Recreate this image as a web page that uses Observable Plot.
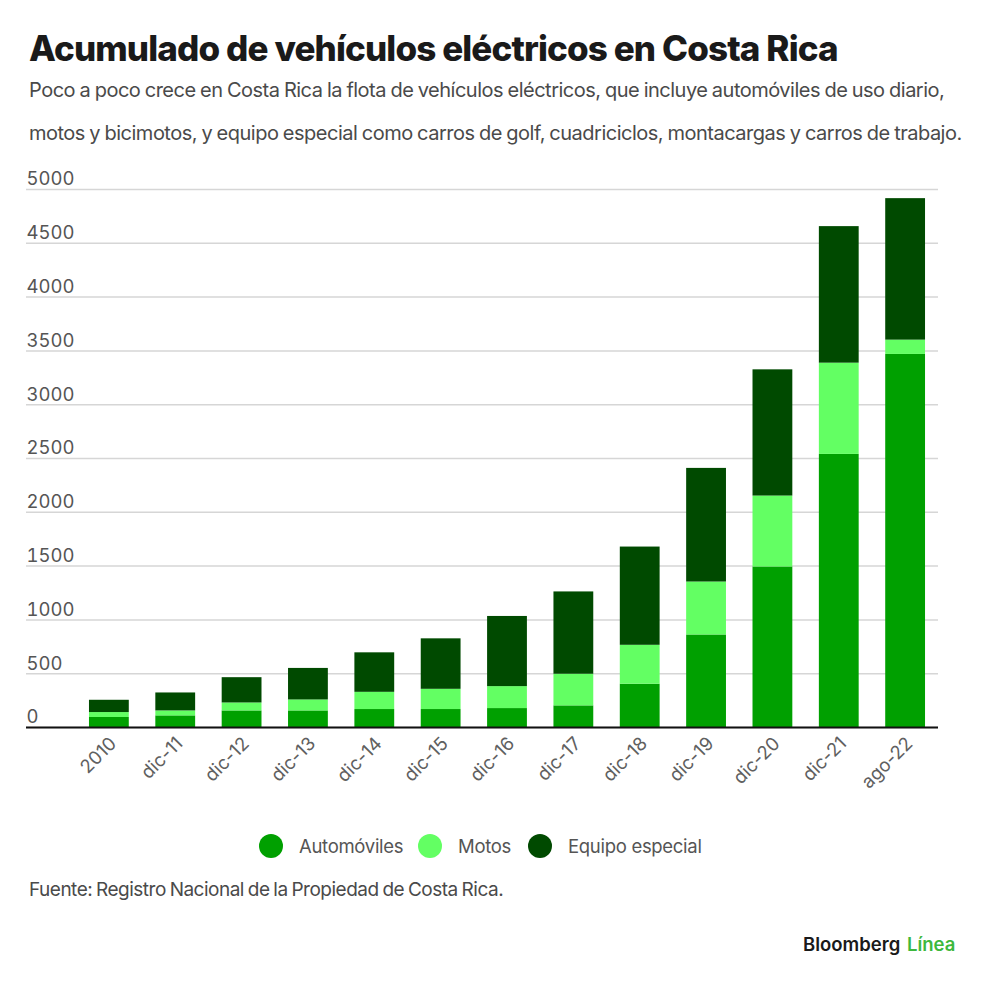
<!DOCTYPE html>
<html><head><meta charset="utf-8">
<script src="https://cdn.jsdelivr.net/npm/d3@7"></script>
<script src="https://cdn.jsdelivr.net/npm/@observablehq/plot@0.6"></script>
<style>
html,body{margin:0;padding:0;background:#fff;}
body{width:1000px;height:990px;position:relative;overflow:hidden;font-family:"Inter","Liberation Sans",sans-serif;color:#2a2a2a;}
#t{position:absolute;left:29px;top:27px;font-size:35px;font-weight:800;color:#1a1a1a;letter-spacing:-0.87px;white-space:nowrap;}
.s{position:absolute;left:29px;font-size:20px;color:#4a4a4a;letter-spacing:-0.5px;word-spacing:-0.7px;white-space:nowrap;}
#c{position:absolute;left:0;top:160px;}
#l{position:absolute;left:0;top:830px;width:1000px;height:30px;font-size:18.5px;color:#555;letter-spacing:-0.3px;}
#l span{position:absolute;top:5px;white-space:nowrap;}
#l i{position:absolute;top:4px;width:24px;height:24px;border-radius:50%;}
#f{position:absolute;left:29px;top:878px;font-size:19px;color:#4a4a4a;letter-spacing:-0.5px;word-spacing:-1px;white-space:nowrap;}
#b{position:absolute;left:803px;top:933px;font-size:18.5px;font-weight:600;color:#1a1a1a;white-space:nowrap;}
#b em{position:absolute;left:104px;font-style:normal;color:#3db83d;}
</style></head><body>
<div id="t">Acumulado de vehículos eléctricos en Costa Rica</div>
<div class="s" style="top:78px">Poco a poco crece en Costa Rica la flota de vehículos eléctricos, que incluye automóviles de uso diario,</div>
<div class="s" style="top:121px">motos y bicimotos, y equipo especial como carros de golf, cuadriciclos, montacargas y carros de trabajo.</div>
<div id="c"></div>
<div id="l"></div>
<div id="f">Fuente: Registro Nacional de la Propiedad de Costa Rica.</div>
<div id="b">Bloomberg <em>Línea</em></div>
<script>
const periods = ["2010","dic-11","dic-12","dic-13","dic-14","dic-15","dic-16","dic-17","dic-18","dic-19","dic-20","dic-21","ago-22"];
const autos  = [93,108,154,154,167,167,176,201,402,860,1492,2538,3467];
const motos  = [46,46,74,102,160,188,204,294,362,492,659,848,133];
const equipo = [114,167,235,293,367,469,652,765,913,1056,1173,1269,1315];
const seriesNames = ["Automóviles","Motos","Equipo especial"];
const seriesColors = ["#00a000","#63ff63","#004a00"];
const yTicks = [0,500,1000,1500,2000,2500,3000,3500,4000,4500,5000];
const rows = periods.flatMap((p,i)=>[
  {p,s:seriesNames[0],v:autos[i]},
  {p,s:seriesNames[1],v:motos[i]},
  {p,s:seriesNames[2],v:equipo[i]}
]);
const chart = Plot.plot({
  width:1000,height:640,
  marginLeft:26,marginRight:62,marginTop:29,marginBottom:73,
  style:{fontFamily:'"Inter","Liberation Sans",sans-serif',background:"#fff"},
  x:{domain:periods,label:null,range:[75.7,938.3],round:false,padding:0.4,paddingOuter:0.2,tickSize:0},
  y:{domain:[0,5000],label:null,ticks:yTicks},
  color:{domain:seriesNames,range:seriesColors},
  marks:[
    Plot.ruleY(yTicks,{stroke:"#d6d6d6",strokeWidth:1.5}),
    Plot.barY(rows,{x:"p",y:"v",fill:"s",order:seriesNames}),
    Plot.ruleY([0],{stroke:"#111",strokeWidth:2}),
    Plot.axisY(yTicks,{tickSize:0,tickPadding:0,anchor:"left",dx:0,dy:-10,fontSize:18.5,fill:"#555",label:null,tickFormat:d=>String(d),textAnchor:"start",marginLeft:0}),
    Plot.axisX(periods,{tickSize:0,tickRotate:-45,fontSize:18.5,fill:"#606060",label:null,tickPadding:13,dx:4})
  ]
});
document.getElementById("c").appendChild(chart);
const lg=document.getElementById("l");
[[259,299],[418,458],[528,568]].forEach(([a,b],i)=>{
  const dot=document.createElement("i");dot.style.left=a+"px";dot.style.background=seriesColors[i];lg.appendChild(dot);
  const sp=document.createElement("span");sp.style.left=b+"px";sp.textContent=seriesNames[i];lg.appendChild(sp);
});
</script>
</body></html>
